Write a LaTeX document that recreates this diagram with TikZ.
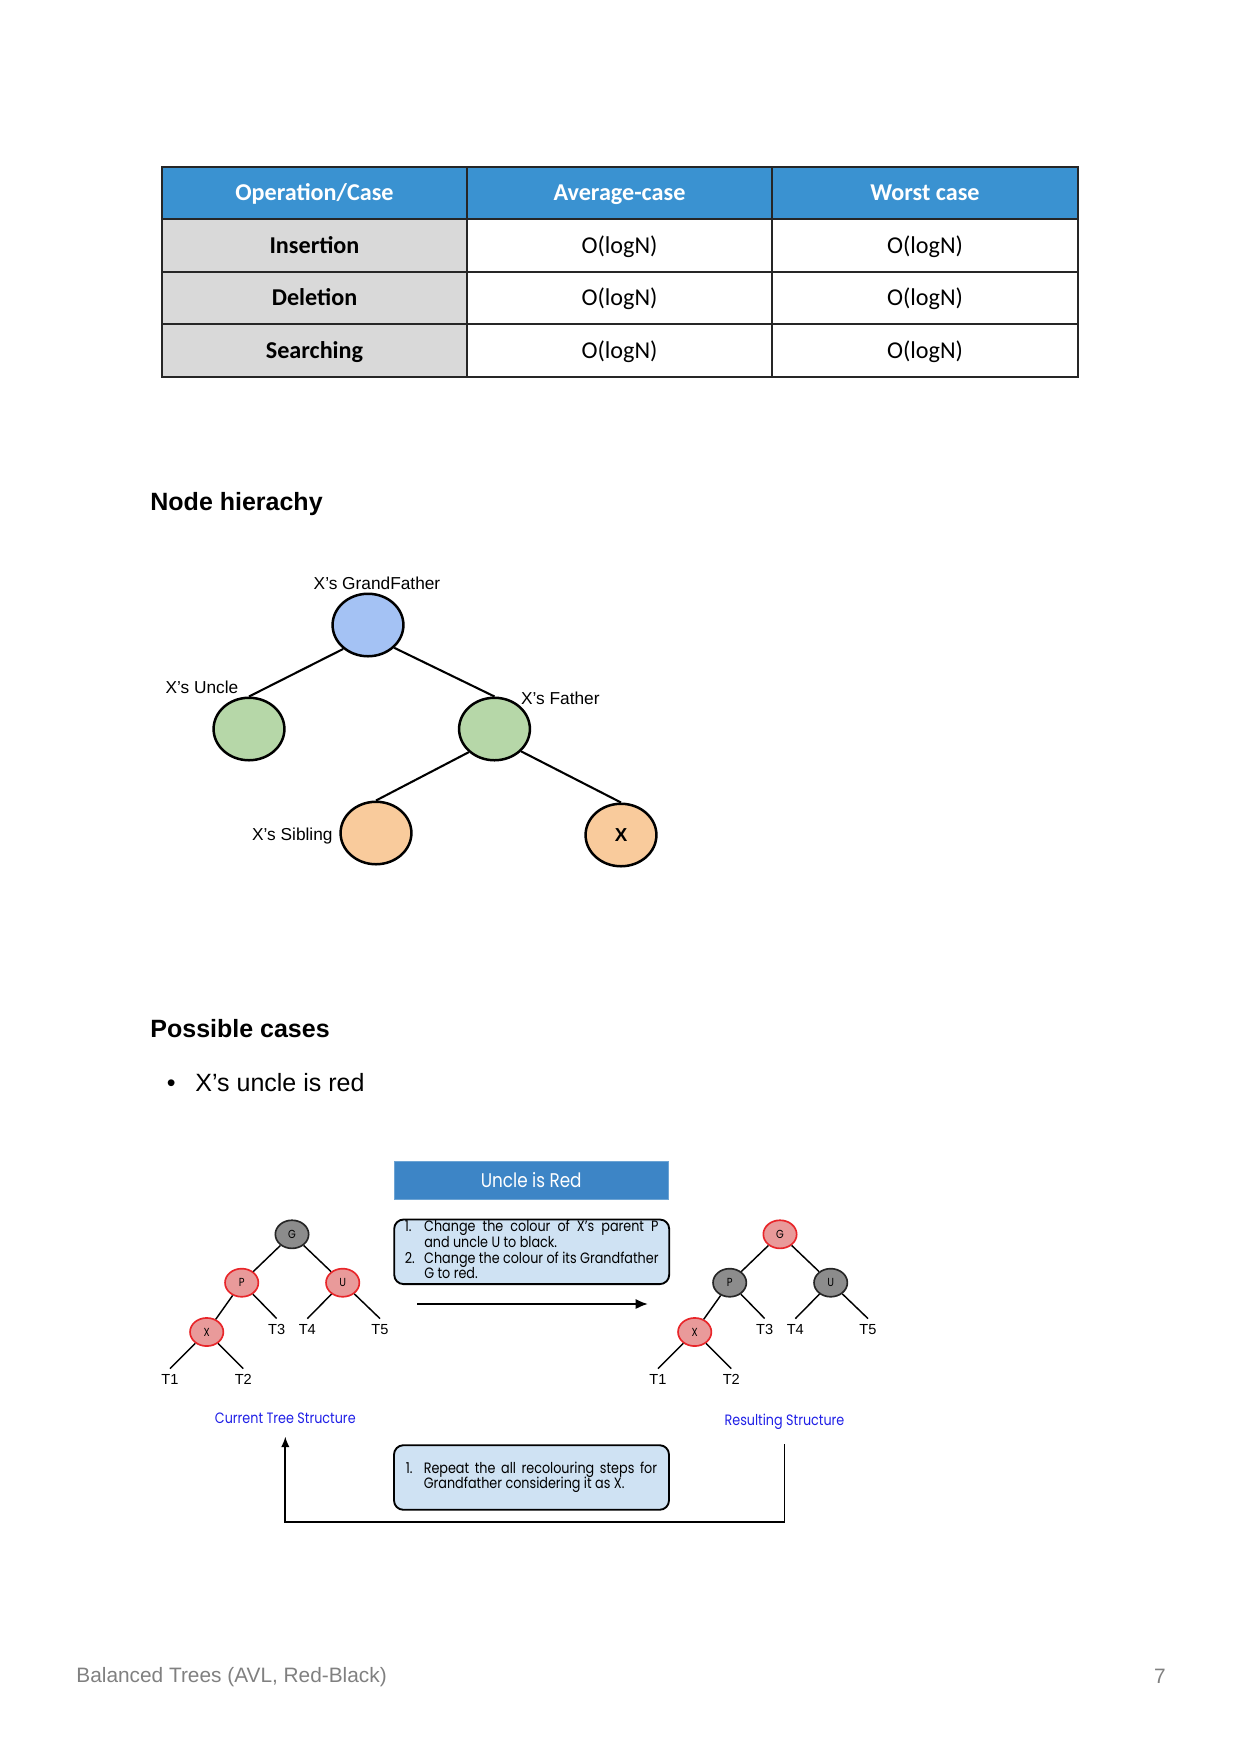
\documentclass[tikz,border=0pt]{standalone}
\usepackage{fontspec}
\setmainfont{Liberation Sans}
\newfontfamily\cellfont{Carlito}
\newfontfamily\roundfont[FakeStretch=0.85]{Poppins}
\usetikzlibrary{shapes.geometric,arrows.meta,positioning}

\definecolor{headblue}{HTML}{3A92D1}
\definecolor{rowgrey}{HTML}{D9D9D9}
\definecolor{gfblue}{HTML}{A4C2F4}
\definecolor{kingreen}{HTML}{B6D7A8}
\definecolor{youngorange}{HTML}{F9CB9C}
\definecolor{titleblue}{HTML}{3D85C6}
\definecolor{notefill}{HTML}{CFE2F3}
\definecolor{redfill}{HTML}{E99A9A}
\definecolor{redrim}{HTML}{E8262A}
\definecolor{darkfill}{HTML}{8C8C8C}
\definecolor{darkrim}{HTML}{262626}
\definecolor{capblue}{HTML}{1F1FE6}
\definecolor{footgrey}{HTML}{808080}

\newlength\notewd

\tikzset{
  cell/.style={inner sep=0pt, anchor=base, font=\cellfont\fontsize{11.6}{13}\selectfont},
  boldcell/.style={cell, font=\cellfont\bfseries\fontsize{11.6}{13}\selectfont},
  rule/.style={line width=0.5pt, draw=black!85},
  heading/.style={inner sep=0pt, anchor=base west, font=\bfseries\fontsize{12}{14}\selectfont},
  bignode/.style={ellipse, draw, line width=1.2pt, minimum width=34pt,
    minimum height=30pt, inner sep=0pt},
  relation/.style={line width=1pt},
  tag/.style={inner sep=0pt, font=\fontsize{8.3}{10}\selectfont},
  rbnode/.style={ellipse, line width=0.8pt, minimum width=16pt, minimum height=13.5pt,
    inner sep=0pt, font=\roundfont\fontsize{5.6}{6}\selectfont},
  rednode/.style={rbnode, draw=redrim, fill=redfill},
  darknode/.style={rbnode, draw=darkrim, fill=darkfill},
  leaf/.style={inner sep=2.5pt, font=\fontsize{7}{8}\selectfont},
  link/.style={line width=0.7pt},
  note/.style={draw, line width=0.9pt, rounded corners=4.5pt, fill=notefill,
    minimum width=132pt, minimum height=31pt, inner sep=0pt,
    font=\roundfont\fontsize{7.2}{7}\selectfont},
  caption/.style={inner sep=0pt, text=capblue, font=\roundfont\fontsize{7.2}{8}\selectfont},
}

\begin{document}
\begin{tikzpicture}[x=0.48pt,y=-0.48pt]
  \useasboundingbox (0,0) rectangle (1240,1754);

  % complexity table
  \fill[headblue] (162,167) rectangle (1078,219);
  \fill[rowgrey] (162,219) rectangle (467,377);
  \draw[rule] (162,167) rectangle (1078,377);
  \foreach \y in {219,272,324}
    \draw[rule] (162,\y) -- (1078,\y);
  \foreach \x in {467,772}
    \draw[rule] (\x,167) -- (\x,377);
  \node[boldcell, text=white] (h1) at (314.5,200.5) {Operation/Case};
  \node[boldcell, text=white] (h2) at (619.5,200.5) {Average-case};
  \node[boldcell, text=white] (h3) at (925,200.5) {Worst case};
  \foreach \op/\yy [count=\r] in {Insertion/253, Deletion/305.5, Searching/358.5} {
    \node[boldcell] (op\r) at (314.5,\yy) {\op};
    \node[cell] (avg\r) at (619.5,\yy) {O(logN)};
    \node[cell] (worst\r) at (925,\yy) {O(logN)};
  }

  % node hierachy
  \node[heading] (hier) at (150,510) {Node hierachy};
  \node[bignode, fill=gfblue] (gf) at (368,625) {};
  \node[bignode, fill=kingreen] (uncle) at (249,729) {};
  \node[bignode, fill=kingreen] (father) at (494.5,729) {};
  \node[bignode, fill=youngorange] (sibling) at (376,833) {};
  \node[bignode, fill=youngorange, font=\bfseries\fontsize{9}{10}\selectfont] (x) at (621,835) {X};
  \draw[relation] (gf.224) -- (uncle.north);
  \draw[relation] (gf.319) -- (father.north);
  \draw[relation] (father.222) -- (sibling.north);
  \draw[relation] (father.320) -- (x.north);
  \node[tag, anchor=base] (gflabel) at (377,589) {X’s GrandFather};
  \node[tag, anchor=base] (unclelabel) at (202,693) {X’s Uncle};
  \node[tag, anchor=base west] (fatherlabel) at (520.7,704) {X’s Father};
  \node[tag, anchor=base east] (siblinglabel) at (333,840) {X’s Sibling};

  % possible cases
  \node[heading] (cases) at (150,1037) {Possible cases};
  \node[inner sep=0pt, anchor=base west, font=\fontsize{12}{14}\selectfont] (dot) at (166.5,1091) {•};
  \node[inner sep=0pt, anchor=base west, font=\fontsize{12}{14}\selectfont] (uncred) at (195,1091) {X’s uncle is red};

  \node[fill=titleblue, draw=titleblue!75!white, minimum width=131.7pt, minimum height=18pt,
    inner sep=0pt, text=white, font=\roundfont\fontsize{9.5}{10}\selectfont] (title) at (531.2,1180.5) {Uncle is Red};
  \node[note] (recolour) at (531.7,1251.8) {\settowidth\notewd{Change the colour of its Grandfather}%
    \begin{tabular}{@{}p{9.3pt}@{}l@{}}
      1. & \makebox[\notewd][s]{Change the colour of X’s parent P}\\
         & and uncle U to black.\\
      2. & Change the colour of its Grandfather\\
         & G to red.
    \end{tabular}};
  \coordinate (flowstart) at (417,1304);
  \coordinate (flowend) at (648,1304);
  \draw[line width=1pt, -{Latex[length=6pt,width=5pt]}] (flowstart) -- (flowend);

  % before and after trees
  \foreach \pre/\dx/\gs/\ps in {L/0/darknode/rednode, R/488/rednode/darknode} {
    \begin{scope}[shift={(\dx,0)}]
      \node[\gs] (\pre-g) at (292,1234.3) {G};
      \node[\ps] (\pre-p) at (241.7,1282.7) {P};
      \node[\ps] (\pre-u) at (342.7,1282.7) {U};
      \node[rednode] (\pre-x) at (206.7,1332) {X};
      \node[leaf] (\pre-t1) at (170,1379.3) {T1};
      \node[leaf] (\pre-t2) at (243.3,1379.3) {T2};
      \node[leaf] (\pre-t3) at (276.7,1329.3) {T3};
      \node[leaf] (\pre-t4) at (307.3,1329.3) {T4};
      \node[leaf] (\pre-t5) at (380,1329.3) {T5};
      \draw[link] (\pre-g) -- (\pre-p);
      \draw[link] (\pre-g) -- (\pre-u);
      \draw[link] (\pre-p) -- (\pre-x);
      \draw[link] (\pre-p) -- (\pre-t3.north);
      \draw[link] (\pre-u) -- (\pre-t4.north);
      \draw[link] (\pre-u) -- (\pre-t5.north);
      \draw[link] (\pre-x) -- (\pre-t1.north);
      \draw[link] (\pre-x) -- (\pre-t2.north);
    \end{scope}
  }
  \node[caption] (current) at (285.3,1418.3) {Current Tree Structure};
  \node[caption] (result) at (784.5,1421.7) {Resulting Structure};

  \node[note] (again) at (531.5,1477.5) {%
    \begin{tabular}{@{}p{8.6pt}@{}l@{}}
      1. & \makebox[112pt][s]{Repeat the all recolouring steps for}\\
         & Grandfather considering it as X.
    \end{tabular}};
  \coordinate (loopfoot) at (531,1521.7);
  \draw[line width=0.8pt, -{Latex[length=5pt,width=4pt]}]
    ([yshift=-7pt]result.south) |- (loopfoot) -| ([yshift=-6pt]current.south);

  % footer
  \node[inner sep=0pt, anchor=base west, text=footgrey, font=\fontsize{10}{12}\selectfont] (foot) at (76,1682.3) {Balanced Trees (AVL, Red-Black)};
  \node[inner sep=0pt, anchor=base east, text=footgrey, font=\fontsize{10}{12}\selectfont] (pageno) at (1166,1683) {7};
\end{tikzpicture}
\end{document}
